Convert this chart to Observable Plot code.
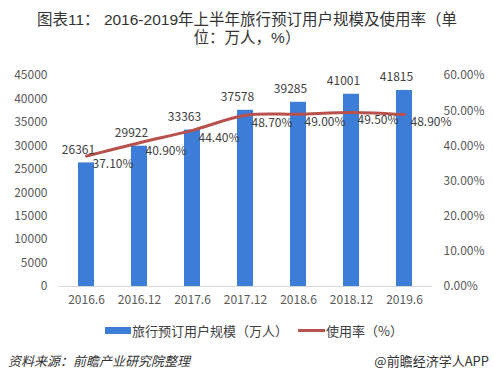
<!DOCTYPE html>
<html><head><meta charset="utf-8">
<script src="https://cdn.jsdelivr.net/npm/d3@7"></script>
<script src="https://cdn.jsdelivr.net/npm/@observablehq/plot@0.6"></script>
<style>
body{margin:0;background:#fff;font-family:"Noto Sans CJK SC","Noto Sans",sans-serif;}
#wrap{position:relative;width:494px;height:382px;overflow:hidden;}
#wrap svg{position:absolute;left:0;top:0;}
.abs{position:absolute;white-space:nowrap;}
.title{left:0;width:494px;text-align:center;font-family:"Liberation Sans","Noto Sans CJK SC",sans-serif;font-size:15.5px;line-height:18px;height:18px;color:#333;}
#legend{left:0;top:321px;width:494px;font-size:13px;color:#404040;}
#src{left:8px;top:351px;font-size:13px;font-style:italic;color:#333;}
#brand{right:5px;top:351px;font-size:13px;color:#333;}
</style></head>
<body><div id="wrap">
<div class="abs title" style="top:11px">图表11： 2016-2019年上半年旅行预订用户规模及使用率（单</div>
<div class="abs title" style="top:29px">位：万人，%）</div>
<div id="legend" class="abs">
 <span style="position:absolute;left:105px;top:6px;width:26px;height:7px;background:#3c7dd8"></span>
 <span style="position:absolute;left:132px;top:0">旅行预订用户规模（万人）</span>
 <span style="position:absolute;left:298px;top:8px;width:27px;height:3px;background:#b8504c"></span>
 <span style="position:absolute;left:326px;top:0">使用率（%）</span>
</div>
<div id="src" class="abs">资料来源：前瞻产业研究院整理</div>
<div id="brand" class="abs">@前瞻经济学人APP</div>
</div>
<script>
const periods = ["2016.6","2016.12","2017.6","2017.12","2018.6","2018.12","2019.6"];
const users = [26361,29922,33363,37578,39285,41001,41815];
const rates = [37.1,40.9,44.4,48.7,49.0,49.5,48.9];
const leftTicks = [0,5000,10000,15000,20000,25000,30000,35000,40000,45000];
const rightTicks = [0,10,20,30,40,50,60];
const yMax = 45000, pMax = 60;

const data = periods.map((p,i)=>({period:p, users:users[i], rate:rates[i]}));
const toY = r => r / pMax * yMax;

const chart = Plot.plot({
  width: 494, height: 382,
  marginLeft: 58, marginRight: 62, marginTop: 75, marginBottom: 96,
  style: {fontSize: "12px", fontFamily: '"Noto Sans CJK SC","Noto Sans",sans-serif', color: "#595959", background: "transparent"},
  x: {domain: periods, paddingInner: 0.7, paddingOuter: 0.35, label: null},
  y: {domain: [0, yMax], label: null},
  marks: [
    Plot.barY(data, {x: "period", y: "users", fill: "#3c7dd8"}),
    Plot.ruleY([0], {stroke: "#d9d9d9"}),
    Plot.line(data, {x: "period", y: d => toY(d.rate), stroke: "#b8504c", strokeWidth: 3, curve: "catmull-rom"}),
    Plot.text(data, {x: "period", y: "users", text: d => String(d.users), dy: -13, dx: -8, fill: "#404040", fontSize: 12}),
    Plot.text(data, {x: "period", y: d => toY(d.rate), text: d => d.rate.toFixed(2) + "%", textAnchor: "start", dx: 6, dy: 8, fill: "#404040", fontSize: 12}),
    Plot.axisY({ticks: leftTicks, tickFormat: d => String(d), anchor: "left", tickSize: 0, tickPadding: 11, label: null}),
    Plot.axisY(rightTicks.map(toY), {anchor: "right", tickFormat: d => (d / yMax * pMax).toFixed(2) + "%", tickSize: 0, tickPadding: 11, label: null}),
    Plot.axisX({tickSize: 0, tickPadding: 9, label: null})
  ]
});
document.getElementById("wrap").prepend(chart);
</script>
</body></html>
